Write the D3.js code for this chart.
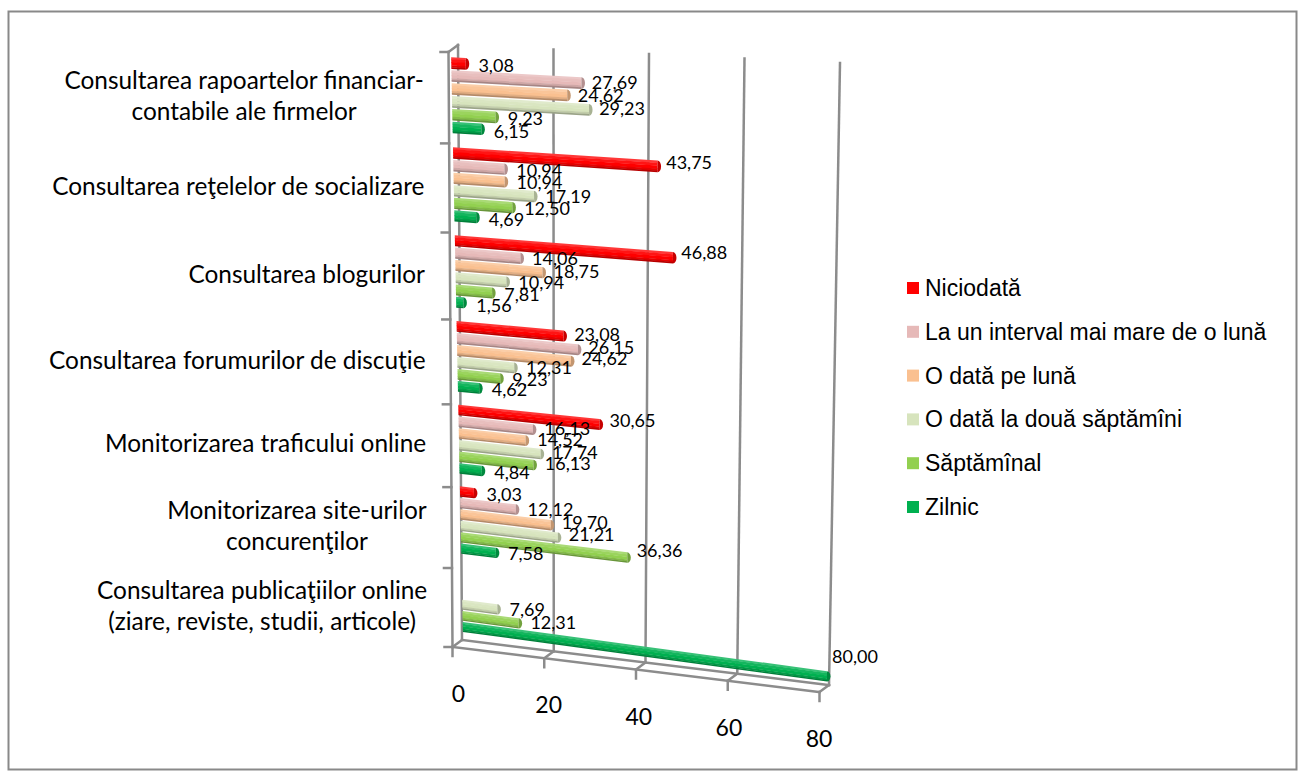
<!DOCTYPE html>
<html>
<head>
<meta charset="utf-8">
<script src="https://cdn.jsdelivr.net/npm/d3@7"></script>
<style>
  body { margin: 0; background: #ffffff; }
  svg { display: block; }
</style>
</head>
<body>
<svg id="chart" width="1303" height="779"></svg>
<script>
// ---- data ----
const categories = [
  "Consultarea rapoartelor financiar-contabile ale firmelor",
  "Consultarea reţelelor de socializare",
  "Consultarea blogurilor",
  "Consultarea forumurilor de discuţie",
  "Monitorizarea traficului online",
  "Monitorizarea site-urilor concurenţilor",
  "Consultarea publicaţiilor online (ziare, reviste, studii, articole)"
];
const categoryLines = [
  ["Consultarea rapoartelor financiar-", "contabile ale firmelor"],
  ["Consultarea reţelelor de socializare"],
  ["Consultarea blogurilor"],
  ["Consultarea forumurilor de discuţie"],
  ["Monitorizarea traficului online"],
  ["Monitorizarea site-urilor", "concurenţilor"],
  ["Consultarea publicaţiilor online", "(ziare, reviste, studii, articole)"]
];
const series = [
  "Niciodată",
  "La un interval mai mare de o lună",
  "O dată pe lună",
  "O dată la două săptămîni",
  "Săptămînal",
  "Zilnic"
];
const niciodata      = [3.08, 43.75, 46.88, 23.08, 30.65, 3.03, null];
const intervalMare   = [27.69, 10.94, 14.06, 26.15, 16.13, 12.12, null];
const odataPeLuna    = [24.62, 10.94, 18.75, 24.62, 14.52, 19.70, null];
const odataLaDoua    = [29.23, 17.19, 10.94, 12.31, 17.74, 21.21, 7.69];
const saptamanal     = [9.23, 12.50, 7.81, 9.23, 16.13, 36.36, 12.31];
const zilnic         = [6.15, 4.69, 1.56, 4.62, 4.84, 7.58, 80.00];
const seriesValues = [niciodata, intervalMare, odataPeLuna, odataLaDoua, saptamanal, zilnic];
const seriesColors = ["#FF0000", "#E6B9B8", "#FAC090", "#D7E4BD", "#92D050", "#00B050"];
const valueTicks = [0, 20, 40, 60, 80];

// ---- scales ----
const SLOTS = 49;
const xValue = d3.scaleLinear().domain([0, 80]).range([0, 1]);
const yBand = d3.scaleBand().domain(categories).range([0, SLOTS])
  .paddingInner(1 / 7).paddingOuter(1 / 14);
const ySeries = d3.scaleBand().domain(series).range([0, yBand.bandwidth()])
  .paddingInner(0.1).paddingOuter(0.05);
const depth = d3.scaleLinear().domain([0, SLOTS]).range([0, 1]);

// perspective foreshortening along the category direction
const K = 0.0888;
const warp = s => s * (1 + K) / (1 + K * s);
const lerp = (a, b, t) => a + (b - a) * t;
const lerpPt = (p, q, t) => [lerp(p[0], q[0], t), lerp(p[1], q[1], t)];

// plane in which the bars lie
const barPlane = {
  leftTop: [451, 50], leftBottom: [463, 638],
  widthTop: 376, widthBottom: 364,
  dropTop: 19, dropBottom: 50
};
function project(u, v) {
  const t = warp(depth(v));
  const l = lerpPt(barPlane.leftTop, barPlane.leftBottom, t);
  const w = lerp(barPlane.widthTop, barPlane.widthBottom, t);
  const d = lerp(barPlane.dropTop, barPlane.dropBottom, t);
  const f = xValue(u);
  return [l[0] + w * f, l[1] + d * f];
}
// back wall
const wallPlane = {
  topLeft: [458, 45], topRight: [840, 63],
  bottomLeft: [462, 640], bottomRight: [829, 685]
};
function wall(u, v) {
  const t = warp(depth(v));
  const f = xValue(u);
  const top = lerpPt(wallPlane.topLeft, wallPlane.topRight, f);
  const bot = lerpPt(wallPlane.bottomLeft, wallPlane.bottomRight, f);
  return lerpPt(top, bot, t);
}
const frontShift = [-9.5, 7];
const front = p => [p[0] + frontShift[0], p[1] + frontShift[1]];

const svg = d3.select("#chart");
const axisColor = "#8c8c8c";
const line = d3.line();

// chart border
svg.append("rect")
  .attr("x", 8.5).attr("y", 11.5).attr("width", 1288).attr("height", 758)
  .attr("fill", "#fff").attr("stroke", "#898989").attr("stroke-width", 2);

// ---- walls and gridlines ----
const grid = svg.append("g").attr("fill", "none").attr("stroke", axisColor)
  .attr("stroke-width", 2.5).attr("stroke-linecap", "square");

valueTicks.forEach(u => {
  grid.append("path").attr("d", line([wall(u, 0), wall(u, SLOTS)]));
});
// floor: back edge, front edge, connectors and ticks
grid.append("path").attr("d", line([wall(0, SLOTS), wall(80, SLOTS)]));
grid.append("path").attr("d", line([front(wall(0, SLOTS)), front(wall(80, SLOTS))]));
valueTicks.forEach(u => {
  const b = wall(u, SLOTS), f = front(b);
  grid.append("path").attr("d", line([b, f]));
  grid.append("path").attr("d", line([f, [f[0], f[1] + 9]]));
});
// side wall: front edge with category ticks
grid.append("path").attr("d", line([front(wall(0, 0)), front(wall(0, SLOTS))]));
grid.append("path").attr("d", line([wall(0, 0), front(wall(0, 0))]));
d3.range(0, SLOTS + 1, 7).forEach(v => {
  const f = front(wall(0, v));
  grid.append("path").attr("d", line([f, [f[0] - 8, f[1]]]));
});

// ---- bars (cylinders shaded in strips across their thickness) ----
const shadeStops = [
  { a: 0.00, b: 0.18, mix: ["#fff", 0.22] },
  { a: 0.18, b: 0.42, mix: ["#fff", 0.08] },
  { a: 0.42, b: 0.68, mix: ["#fff", 0.0] },
  { a: 0.68, b: 0.85, mix: ["#000", 0.1] },
  { a: 0.85, b: 1.00, mix: ["#000", 0.28] }
];
const barsData = [];
categories.forEach((c, ci) => {
  series.forEach((s, si) => {
    const val = seriesValues[si][ci];
    if (val == null) return;
    const v0 = yBand(c) + ySeries(s);
    barsData.push({ c, s, si, val, v0, v1: v0 + ySeries.bandwidth() });
  });
});

const barsG = svg.append("g");
barsData.forEach(d => {
  const g = barsG.append("g");
  const base = seriesColors[d.si];
  shadeStops.forEach(st => {
    const va = lerp(d.v0, d.v1, st.a), vb = Math.min(d.v1, lerp(d.v0, d.v1, st.b) + 0.03);
    const col = d3.interpolateRgb(base, st.mix[0])(st.mix[1]);
    g.append("path")
      .attr("d", line([project(0, va), project(d.val, va), project(d.val, vb), project(0, vb)]) + "Z")
      .attr("fill", col);
  });
  // rounded end cap
  const p1 = project(d.val, d.v0), p2 = project(d.val, d.v1);
  const ry = Math.hypot(p2[0] - p1[0], p2[1] - p1[1]) / 2;
  const ang = Math.atan2(p2[1] - p1[1], p2[0] - p1[0]) * 180 / Math.PI - 90;
  g.append("path")
    .attr("d", `M${p1[0]},${p1[1]} A3.5,${ry} ${ang} 0 1 ${p2[0]},${p2[1]} Z`)
    .attr("fill", d3.interpolateRgb(base, "#000")(0.22));
});

// ---- data labels ----
const fmt = v => d3.format(".2f")(v).replace(".", ",");
const labelsG = svg.append("g")
  .attr("font-family", "Lato, 'Open Sans', sans-serif").attr("font-size", 18).attr("fill", "#000");
barsData.forEach(d => {
  const vc = (d.v0 + d.v1) / 2;
  const s = project(0, vc), e = project(d.val, vc);
  labelsG.append("text")
    .attr("x", e[0] + 13 - 0.1 * d.val)
    .attr("y", s[1] + 0.55 * (e[1] - s[1]) + 2)
    .attr("dominant-baseline", "central")
    .text(fmt(d.val));
});

// ---- value axis labels ----
const axisG = svg.append("g")
  .attr("font-family", "Lato, 'Open Sans', sans-serif").attr("font-size", 23)
  .attr("fill", "#000").attr("text-anchor", "middle");
valueTicks.forEach(u => {
  const f = front(wall(u, SLOTS));
  axisG.append("text").attr("x", f[0] + 6 - 0.08 * u).attr("y", f[1] + 46)
    .attr("dominant-baseline", "central").text(u);
});

// ---- category labels ----
const catG = svg.append("g")
  .attr("font-family", "Lato, 'Open Sans', sans-serif").attr("font-size", 24.4).attr("fill", "#000");
categories.forEach((c, ci) => {
  const vc = yBand(c) + yBand.bandwidth() / 2;
  const anchor = front(wall(0, vc));
  const right = anchor[0] - 25;
  const lines = categoryLines[ci];
  const lh = 31;
  const texts = lines.map((t, i) => catG.append("text")
    .attr("y", anchor[1] - 3 + (i - (lines.length - 1) / 2) * lh)
    .attr("dominant-baseline", "central").attr("text-anchor", "middle").text(t));
  const blockW = d3.max(texts, t => t.node().getComputedTextLength());
  texts.forEach(t => t.attr("x", right - blockW / 2));
});

// ---- legend ----
const legend = svg.append("g")
  .attr("font-family", "'Liberation Sans', Arial, sans-serif").attr("font-size", 23).attr("fill", "#000");
const legendY = d3.scalePoint().domain(series).range([288, 507]);
series.forEach((s, i) => {
  const y = legendY(s);
  legend.append("rect").attr("x", 907).attr("y", y - 6).attr("width", 12).attr("height", 12)
    .attr("fill", seriesColors[i]);
  legend.append("text").attr("x", 925).attr("y", y).attr("dominant-baseline", "central").text(s);
});
</script>
</body>
</html>
